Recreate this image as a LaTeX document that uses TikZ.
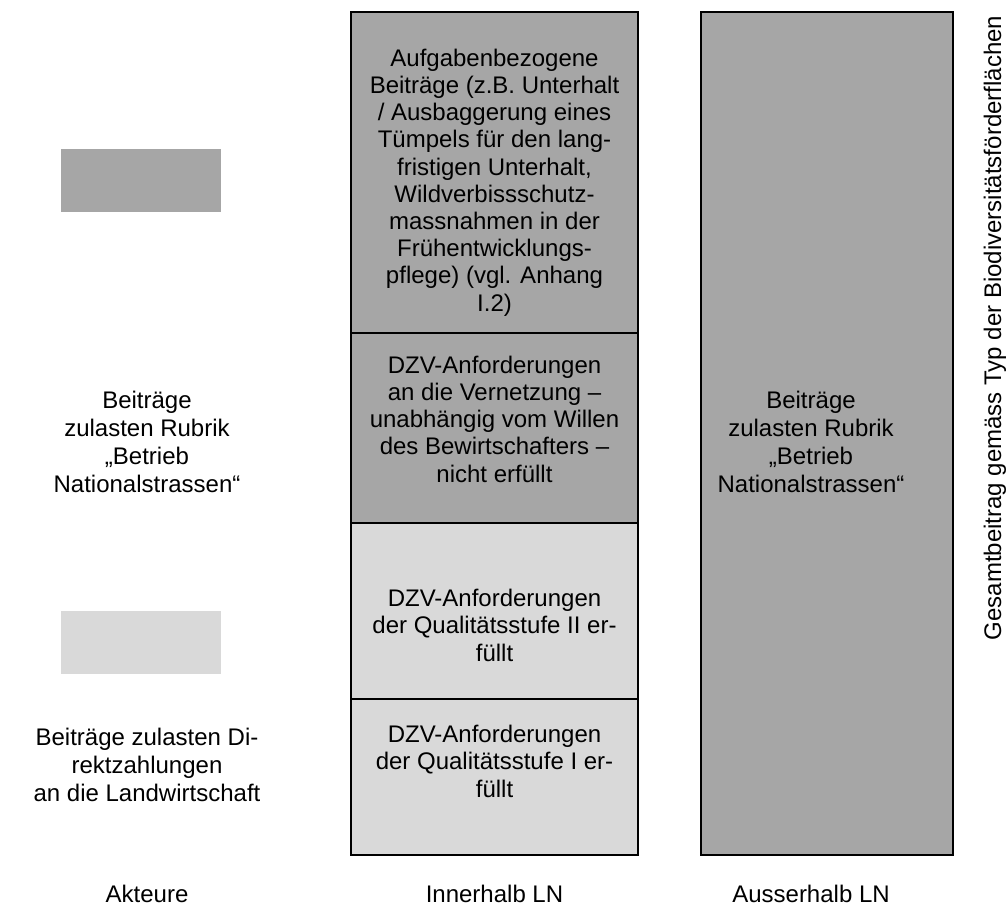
\documentclass[tikz,border=0pt]{standalone}
\usepackage{fontspec}
\setmainfont{Liberation Sans}
\definecolor{darkg}{HTML}{A6A6A6}
\definecolor{lightg}{HTML}{D9D9D9}
\begin{document}
\begin{tikzpicture}[x=1pt,y=-1pt,
  txt/.style={font=\fontsize{24}{27.2}\selectfont, anchor=base, inner sep=0pt, align=center},
  wtxt/.style={font=\fontsize{24}{28}\selectfont, anchor=base, inner sep=0pt, align=center},
  boxline/.style={draw=black, line width=2.2pt},
  leg/.style={inner sep=0pt, minimum width=160pt, minimum height=63pt, anchor=north west}]
\useasboundingbox (0,0) rectangle (1008,907);
% inner column
\fill[darkg] (351,12) rectangle (638,523);
\fill[lightg] (351,523) rectangle (638,855);
\draw[boxline] (351,12) rectangle (638,855);
\draw[boxline] (351,333) -- (638,333);
\draw[boxline] (351,523) -- (638,523);
\draw[boxline] (351,699) -- (638,699);
% outer column
\fill[darkg] (701,12) rectangle (953,855);
\draw[boxline] (701,12) rectangle (953,855);
% legend
\node[leg, fill=darkg] (legd) at (61,149) {};
\node[leg, fill=lightg] (legl) at (61,611) {};
% texts (anchor base = baseline of the last line)
\node[txt] (tA) at (494.5,311) {Aufgabenbezogene\\Beiträge (z.B. Unterhalt\\/ Ausbaggerung eines\\Tümpels für den lang-\\fristigen Unterhalt,\\Wildverbissschutz-\\massnahmen in der\\Frühentwicklungs-\\pflege) (vgl. Anhang\\I.2)};
\node[txt] (tB) at (494.5,482) {DZV-Anforderungen\\an die Vernetzung –\\unabhängig vom Willen\\des Bewirtschafters –\\nicht erfüllt};
\node[txt] (tC) at (494.5,661) {DZV-Anforderungen\\der Qualitätsstufe II er-\\füllt};
\node[txt] (tD) at (494.5,797) {DZV-Anforderungen\\der Qualitätsstufe I er-\\füllt};
\node[wtxt] (tO) at (811,492) {Beiträge\\zulasten Rubrik\\„Betrieb\\Nationalstrassen“};
\node[wtxt] (tL1) at (147,492) {Beiträge\\zulasten Rubrik\\„Betrieb\\Nationalstrassen“};
\node[wtxt] (tL2) at (147,801) {Beiträge zulasten Di-\\rektzahlungen\\an die Landwirtschaft};
\node[txt] (bA) at (147,902) {Akteure};
\node[txt] (bI) at (494.5,902) {Innerhalb LN};
\node[txt] (bO) at (811,902) {Ausserhalb LN};
\node[txt, rotate=90] (rot) at (1001,328) {Gesamtbeitrag gemäss Typ der Biodiversitätsförderflächen};
\end{tikzpicture}
\end{document}
